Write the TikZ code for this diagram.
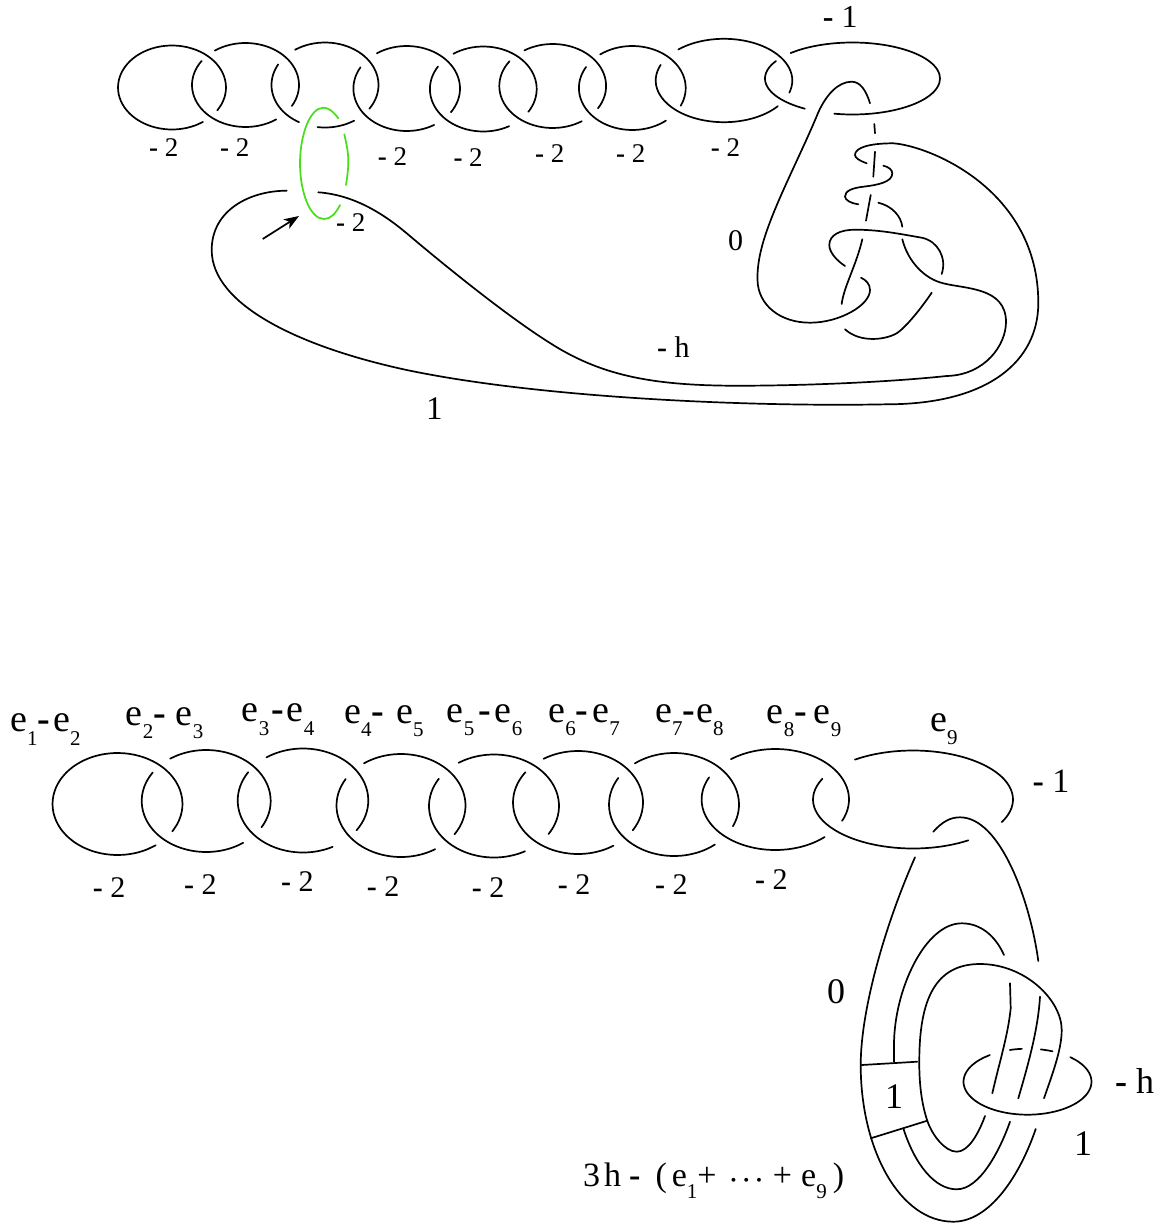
\documentclass[tikz,border=0pt]{standalone}
\usepackage{fontspec}
\setmainfont{Liberation Serif}
\usetikzlibrary{arrows.meta}
\definecolor{ringgreen}{RGB}{70,222,20}
\newcommand{\earc}[6]{\draw[strand,#1] plot[smooth,domain=#2,samples=36] ({#3+#5*cos(\x)},{#4+#6*sin(\x)});}
\newcommand{\ringAB}[8]{%
  \earc{}{#5}{#1}{#2}{#3}{#4}%
  \earc{}{#6}{#1}{#2}{#3}{#4}}
\newcommand{\lab}[5]{\node[anchor=base west,inner sep=0pt,font=\fontsize{#4}{#4}\selectfont] (#1) at (#2,#3) {#5};}
\newcommand{\sbs}[1]{\raisebox{-0.36em}{\fontsize{21}{21}\selectfont #1}}
\newcommand{\hy}{\textbf{-}}
\newcommand{\hs}[1]{\hspace*{#1pt}}
\tikzset{strand/.style={line width=1.7pt,line cap=round,line join=round,black}}
\begin{document}
\begin{tikzpicture}[x=1pt,y=-1pt]
\useasboundingbox (0,0) rectangle (1167,1226);
% ---------- upper chain
\earc{}{55:393}{172}{87.5}{54}{42}
\ringAB{245.5}{85}{53.5}{42}{235:390}{55:215}{}{}
\earc{}{236:394}{325}{85}{53.5}{42.5}
\earc{}{119:209}{325}{85}{53.5}{42.5}
\earc{}{57:98}{325}{85}{53.5}{42.5}
\ringAB{406.7}{88.5}{53.3}{42.5}{236:394}{59:210}{}{}
\ringAB{483.3}{89}{53.4}{42.5}{236:392.5}{61:212}{}{}
\ringAB{552.7}{86}{53.4}{42}{238:392}{57:216}{}{}
\ringAB{632.3}{88}{53.4}{42}{233:385}{51:210}{}{}
\ringAB{724}{80.5}{68.3}{41.7}{228:377}{38:202}{}{}
\ringAB{852.5}{78.5}{87.5}{36}{225:462}{123:209}{}{}
% green ring
\draw[strand,ringgreen] (338.3,118.3) .. controls (333,111) and (328,107.7) .. (323.3,107.7) .. controls (310,107.7) and (300,135) .. (300,163.3) .. controls (300,192) and (310,219) .. (324,219) .. controls (331,219) and (336,213) .. (340,205);
\draw[strand,ringgreen] (344.3,134.3) .. controls (347,146) and (348.3,153) .. (348.3,161.7) .. controls (348.3,170) and (347,178) .. (346,185);
% upper knot
\draw[strand] (870,103.3) .. controls (866,90) and (860,81.7) .. (851.7,81.7) .. controls (838,81.7) and (826,95) .. (818,113) .. controls (805,145) and (782,190) .. (770,222) .. controls (762,243) and (757,262) .. (757.5,280) .. controls (758,305) and (780,322.7) .. (810,322.7) .. controls (840,322.7) and (870,305) .. (870,290) .. controls (870,284) and (866,280) .. (861,277.7);
\draw[strand] (874.3,124) -- (875,133.3);
\draw[strand] (866.7,163.3) .. controls (860,161) and (855,158) .. (855,155) .. controls (855,148) and (868,143.3) .. (893.3,143.3) .. controls (930,146) and (1038.3,190) .. (1038.3,303) .. controls (1038.3,360) and (990,404.3) .. (886.7,404.3) .. controls (750,407) and (540,398) .. (406.7,370) .. controls (300,347) and (211.7,305) .. (211.7,250) .. controls (211.7,210) and (250,190.7) .. (286.7,190.7);
\draw[strand] (875,151.7) -- (873.3,176.7);
\draw[strand] (883.3,165.7) .. controls (889,167) and (892.3,170) .. (892.3,173.3) .. controls (892.3,182) and (878,185) .. (863.3,186.7) .. controls (852,188) and (845,191) .. (845,196.5) .. controls (845,200) and (851,203.5) .. (858.3,204.3);
\draw[strand] (870.7,195) -- (866,220.7);
\draw[strand] (878.3,202.7) .. controls (892,206) and (901,216) .. (902.3,226.7);
\draw[strand] (845,266) .. controls (836,260) and (829.3,252) .. (829.3,245) .. controls (829.3,235) and (840,229.7) .. (855,229.7) .. controls (880,229.7) and (900,234) .. (921.7,237.7) .. controls (938,241) and (947,258) .. (941.7,274);
\draw[strand] (862.3,239.3) .. controls (858,258) and (850,275) .. (845,290) .. controls (843.5,295) and (842,300) .. (841.7,304);
\draw[strand] (902.3,239.3) .. controls (908,262) and (925,279) .. (943.3,283.3) .. controls (965,289) and (1006,287) .. (1006,322) .. controls (1006,345) and (985,375) .. (946.7,376) .. controls (880,383) and (790,386) .. (730,385.7) .. controls (650,385) and (600,375) .. (550,343) .. controls (510,318) and (450,270) .. (406.7,233.3) .. controls (385,215) and (355,195) .. (318.3,192.3);
\draw[strand] (931.7,292.7) .. controls (920,310) and (905,328) .. (896.7,333.3) .. controls (885,340) and (860,343) .. (845,329.3);
% arrow
\coordinate (arrowstart) at (262.7,239);
\coordinate (arrowtip) at (299,216);
\draw[line width=1.7pt,-{Stealth[length=15pt,width=11pt,inset=4pt]}] (arrowstart) -- (arrowtip);
% upper labels
\lab{t1}{149}{156.7}{27}{\hy{} 2}
\lab{t2}{220}{156.7}{27}{\hy{} 2}
\lab{t3}{377.7}{165}{27}{\hy{} 2}
\lab{t4}{453.3}{166}{27}{\hy{} 2}
\lab{t5}{535}{162.7}{27}{\hy{} 2}
\lab{t6}{616}{162.3}{27}{\hy{} 2}
\lab{t7}{710.7}{156.7}{27}{\hy{} 2}
\lab{tg}{336}{231}{27}{\hy{} 2}
\lab{tm}{822.7}{27.3}{32}{\hy{} 1}
\lab{tz}{728}{250}{30}{0}
\lab{th}{657}{357}{30}{\hy{} h}
\lab{tone}{426}{419}{33}{1}
% ---------- lower chain
\earc{}{54:392.5}{117.5}{804}{65}{51}
\ringAB{206.2}{801}{64.5}{51}{236:391}{55:214}{}{}
\ringAB{303}{800.5}{65.3}{52}{236:395}{63:213}{}{}
\ringAB{401}{805.5}{64.5}{51.5}{235:394}{58:211}{}{}
\ringAB{494}{806}{65}{51.5}{237:393}{61.5:212}{}{}
\ringAB{578}{802.5}{65}{51.5}{238:392.6}{57:216}{}{}
\ringAB{674}{804.5}{65}{51.5}{233:385}{51:211}{}{}
\ringAB{775.3}{799.5}{73.7}{50.5}{233:385}{48:206}{}{}
\ringAB{913}{799.5}{100}{49}{234.5:387.5}{56.4:205}{}{}
% lower knot
\draw[strand] (933.3,831.7) .. controls (942,822) and (950,817.3) .. (960,817.3) .. controls (1000,817.3) and (1030,900) .. (1038.3,961);
\draw[strand] (915,857.3) .. controls (885,925) and (860.7,1010) .. (860.7,1065) .. controls (860.7,1150) and (900,1221.7) .. (953.3,1221.7) .. controls (990,1221.7) and (1020,1175) .. (1035.7,1129);
\draw[strand] (1004,955) .. controls (995,935) and (980,923.3) .. (961.7,923.3) .. controls (925,923.3) and (894,990) .. (894,1045) -- (894,1061.7);
\draw[strand] (861.7,1065) -- (917.3,1061.7);
\draw[strand] (870.7,1138.3) -- (927.3,1120.7);
\draw[strand] (903.3,1128.3) .. controls (915,1165) and (935,1189.3) .. (956.7,1189.3) .. controls (980,1189.3) and (1000,1150) .. (1010,1121.7);
\draw[strand] (985,1116) .. controls (978,1135) and (968,1151.7) .. (956.7,1151.7) .. controls (945,1151.7) and (932,1135) .. (927.3,1120.7) .. controls (922,1105) and (919,1085) .. (919.3,1060) .. controls (919.5,1000) and (935,964) .. (980,964) .. controls (1025,964) and (1061.7,1000) .. (1061.7,1030) .. controls (1061.7,1050) and (1052,1075) .. (1044,1098.3);
\draw[strand] (1010,983.3) -- (1010.7,1008.3) .. controls (1008,1035) and (1000,1060) .. (992.3,1093.3);
\draw[strand] (1040,996.7) .. controls (1038,1030) and (1028,1065) .. (1018.3,1098.3);
\earc{}{-48:234}{1027.5}{1081.7}{64}{33}
\earc{}{254:265}{1027.5}{1081.7}{64}{33}
\earc{}{282:293}{1027.5}{1081.7}{64}{33}
% lower labels
\lab{e12}{10}{731.7}{38}{e\sbs{1}\hy\hs{3}e\sbs{2}}
\lab{e23}{125.7}{725}{38}{e\sbs{2}\hy\hs{10}e\sbs{3}}
\lab{e34}{241.7}{721.7}{38}{e\sbs{3}\hs{2}\hy\hs{3}e\sbs{4}}
\lab{e45}{344}{723.3}{38}{e\sbs{4}\hy\hs{12}e\sbs{5}}
\lab{e56}{446.7}{722.3}{38}{e\sbs{5}\hs{4}\hy\hs{4}e\sbs{6}}
\lab{e67}{548.3}{722.3}{38}{e\sbs{6}\hy\hs{4}e\sbs{7}}
\lab{e78}{655}{722.3}{38}{e\sbs{7}\hy\hs{1}e\sbs{8}}
\lab{e89}{766.7}{723.3}{38}{e\sbs{8}\hy\hs{7}e\sbs{9}}
\lab{e9}{930}{731}{38}{e\sbs{9}}
\lab{b1}{92.7}{897.3}{30}{\hy{} 2}
\lab{b2}{184}{894}{30}{\hy{} 2}
\lab{b3}{281}{891.7}{30}{\hy{} 2}
\lab{b4}{366.7}{896}{30}{\hy{} 2}
\lab{b5}{471.7}{897.3}{30}{\hy{} 2}
\lab{b6}{557.7}{894}{30}{\hy{} 2}
\lab{b7}{655}{894}{30}{\hy{} 2}
\lab{b8}{755}{889}{30}{\hy{} 2}
\lab{bm}{1032.3}{792.7}{34}{\hy{} 1}
\lab{bz}{827}{1003}{36}{0}
\lab{bb}{885}{1108.3}{36}{1}
\lab{bh}{1115}{1093.3}{36}{\hy{} h}
\lab{bo}{1074}{1155}{36}{1}
\lab{cls}{583}{1186}{34}{3\hs{4}h\hs{8}\hy\hs{15}(\hs{5}e\sbs{1}+\hs{13}{\fontsize{24}{24}\selectfont\boldmath$\cdots$}\hs{10}+\hs{9}e\sbs{9}\hs{6})}
\end{tikzpicture}
\end{document}
